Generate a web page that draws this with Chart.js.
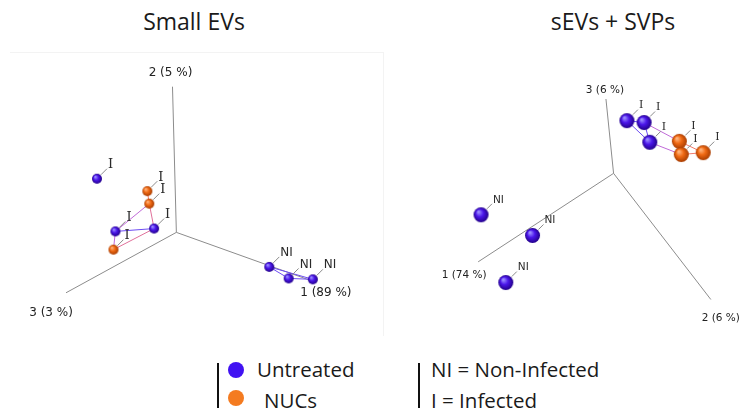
<!DOCTYPE html>
<html lang="en">
<head>
  <meta charset="UTF-8" />
  <title>PCA – Small EVs / sEVs + SVPs</title>
  <script src="https://cdn.jsdelivr.net/npm/chart.js"></script>
  <style>
    body {
      margin: 0;
      width: 747px;
      height: 414px;
      background: #fff;
      position: relative;
      overflow: hidden;
      font-family: "Open Sans", sans-serif;
      color: #1a1a1a;
    }
    .title {
      position: absolute;
      top: 5px;
      font-size: 23px;
      line-height: 32px;
      white-space: nowrap;
      transform: translateX(-50%);
    }
    .frame {
      position: absolute;
      left: 10px;
      top: 52px;
      width: 373px;
      height: 283px;
      border-top: 1px solid #f3f3f3;
      border-right: 1px solid #f3f3f3;
    }
    canvas { position: absolute; }
    .bar {
      position: absolute;
      top: 363px;
      width: 2px;
      height: 45px;
      background: #111;
    }
    .dot {
      position: absolute;
      width: 16px;
      height: 16px;
      border-radius: 50%;
    }
    .txt {
      position: absolute;
      font-size: 20.5px;
      line-height: 26px;
      white-space: nowrap;
    }
  </style>
</head>
<body>
  <div class="title" style="left:194px">Small EVs</div>
  <div class="title" style="left:613px">sEVs + SVPs</div>
  <div class="frame"></div>

  <canvas id="left" width="375" height="290" style="left:0;top:50px"></canvas>
  <canvas id="right" width="367" height="290" style="left:380px;top:50px"></canvas>

  <!-- legend -->
  <div class="bar" style="left:217px"></div>
  <div class="dot" style="left:228px;top:362px;background:#4112f2"></div>
  <div class="dot" style="left:228px;top:390px;background:#f47b20"></div>
  <div class="txt" style="left:257px;top:356px">Untreated</div>
  <div class="txt" style="left:264px;top:387px">NUCs</div>
  <div class="bar" style="left:418px"></div>
  <div class="txt" style="left:431px;top:356px">NI = Non-Infected</div>
  <div class="txt" style="left:431px;top:387px">I = Infected</div>

  <script>
    // ---- Small EVs: projected PCA scores, axis origin at (0,0) ----
    const smallAxisEnds = [[141, -51], [-4, 152], [-114, -63]];   // PC1, PC2, PC3
    const smallAxisNames = ["1 (89 %)", "2 (5 %)", "3 (3 %)"];
    const smallUntreated = [[-82, 56], [-63, 1], [-23, 4], [96, -36], [116, -48], [141, -49]];
    const smallUntreatedTags = ["I", "I", "I", "NI", "NI", "NI"];
    const smallNucs = [[-30, 43], [-28, 30], [-65, -18]];
    const smallNucsTags = ["I", "I", "I"];
    // links between samples: [group, index, group, index]  (u = untreated, n = NUCs)
    const smallLinks = [
      ["n", 0, "n", 1], ["u", 1, "n", 1], ["n", 1, "u", 2], ["u", 1, "u", 2],
      ["u", 1, "n", 2], ["n", 2, "u", 2],
      ["u", 3, "u", 4], ["u", 4, "u", 5], ["u", 3, "u", 5]
    ];

    // ---- sEVs + SVPs ----
    const svpAxisEnds = [[-142, -94], [102, -134], [-8, 79]];     // PC1, PC2, PC3
    const svpAxisNames = ["1 (74 %)", "2 (6 %)", "3 (6 %)"];
    const svpUntreated = [[-139, -44], [-85, -66], [-113, -116], [14, 56], [32, 54], [38, 33]];
    const svpUntreatedTags = ["NI", "NI", "NI", "I", "I", "I"];
    const svpNucs = [[69, 34], [71, 20], [94, 22]];
    const svpNucsTags = ["I", "I", "I"];
    const svpLinks = [
      ["u", 3, "u", 4], ["u", 3, "u", 5], ["u", 4, "u", 5],
      ["u", 4, "n", 0], ["u", 5, "n", 1], ["n", 0, "n", 2], ["n", 1, "n", 2]
    ];

    const BLUE = "#4b16ea";
    const ORANGE = "#f06a14";
    const LINK_COLORS = { uu: "#6d4cf2", un: "#c06ad8", nu: "#e0709a", nn: "#f07a6a" };

    // shaded sphere sprite used as point style
    function sphere(r, light, base, dark) {
      const c = document.createElement("canvas");
      c.width = c.height = 2 * r + 2;
      const g = c.getContext("2d");
      const cx = r + 1;
      const grad = g.createRadialGradient(cx - r * 0.35, cx - r * 0.4, r * 0.1, cx, cx, r);
      grad.addColorStop(0, light);
      grad.addColorStop(0.45, base);
      grad.addColorStop(1, dark);
      g.fillStyle = grad;
      g.beginPath();
      g.arc(cx, cx, r, 0, Math.PI * 2);
      g.fill();
      return c;
    }

    const toXY = p => ({ x: p[0], y: p[1] });

    // leader line + tag for every sample, axis names at the axis tips
    const tagPlugin = {
      id: "tags",
      afterDatasetsDraw(chart, args, opts) {
        const ctx = chart.ctx;
        ctx.save();
        chart.data.datasets.forEach((ds, i) => {
          if (!ds.tags) return;
          chart.getDatasetMeta(i).data.forEach((pt, j) => {
            const { x, y } = pt.getProps(["x", "y"], true);
            ctx.strokeStyle = "#8a8a8a";
            ctx.lineWidth = 1;
            ctx.beginPath();
            ctx.moveTo(x + opts.lead[0], y - opts.lead[0]);
            ctx.lineTo(x + opts.lead[1], y - opts.lead[1]);
            ctx.stroke();
            const tag = ds.tags[j];
            ctx.fillStyle = "#2a2a2a";
            ctx.font = tag === "I" ? opts.fontI : opts.fontNI;
            ctx.textAlign = "left";
            ctx.textBaseline = "middle";
            ctx.fillText(tag, x + opts.lead[1] + 1, y - opts.lead[1] - 4);
          });
        });
        const sx = chart.scales.x, sy = chart.scales.y;
        ctx.font = opts.axisFont;
        ctx.fillStyle = "#222";
        ctx.textAlign = "center";
        ctx.textBaseline = "middle";
        opts.axisEnds.forEach((e, k) => {
          const px = sx.getPixelForValue(e[0]) + opts.axisOffsets[k][0];
          const py = sy.getPixelForValue(e[1]) + opts.axisOffsets[k][1];
          ctx.fillText(opts.axisNames[k], px, py);
        });
        ctx.restore();
      }
    };

    function buildPanel(id, cfg) {
      const groups = { u: cfg.untreated, n: cfg.nucs };
      const datasets = [];

      cfg.axisEnds.forEach(e => datasets.push({
        type: "line",
        data: [{ x: 0, y: 0 }, toXY(e)],
        borderColor: "#8c8c8c",
        borderWidth: 1,
        pointRadius: 0,
        showLine: true,
        order: 3
      }));

      cfg.links.forEach(([ga, ia, gb, ib]) => datasets.push({
        type: "line",
        data: [toXY(groups[ga][ia]), toXY(groups[gb][ib])],
        borderColor: LINK_COLORS[ga + gb],
        borderWidth: 1,
        pointRadius: 0,
        showLine: true,
        order: 2
      }));

      datasets.push({
        label: "Untreated",
        data: cfg.untreated.map(toXY),
        tags: cfg.untreatedTags,
        pointStyle: sphere(cfg.r, "#9a8cff", BLUE, "#22008a"),
        pointRadius: cfg.r,
        order: 0
      });
      datasets.push({
        label: "NUCs",
        data: cfg.nucs.map(toXY),
        tags: cfg.nucsTags,
        pointStyle: sphere(cfg.r, "#ffb27a", ORANGE, "#a83c00"),
        pointRadius: cfg.r,
        order: 1
      });

      new Chart(document.getElementById(id), {
        type: "scatter",
        data: { datasets },
        options: {
          responsive: false,
          animation: false,
          events: [],
          layout: { padding: 0 },
          scales: {
            x: { type: "linear", display: false, min: cfg.xRange[0], max: cfg.xRange[1] },
            y: { type: "linear", display: false, min: cfg.yRange[0], max: cfg.yRange[1] }
          },
          plugins: {
            legend: { display: false },
            tooltip: { enabled: false },
            tags: {
              lead: cfg.lead,
              fontI: cfg.fontI,
              fontNI: cfg.fontNI,
              axisFont: cfg.axisFont,
              axisEnds: cfg.axisEnds,
              axisNames: cfg.axisNames,
              axisOffsets: cfg.axisOffsets
            }
          }
        },
        plugins: [tagPlugin]
      });
    }

    buildPanel("left", {
      untreated: smallUntreated, untreatedTags: smallUntreatedTags,
      nucs: smallNucs, nucsTags: smallNucsTags,
      links: smallLinks,
      axisEnds: smallAxisEnds, axisNames: smallAxisNames,
      axisOffsets: [[13, 12], [-2, -14], [-15, 20]],
      xRange: [-176, 199], yRange: [-106, 184],
      r: 5, lead: [4, 10],
      fontI: "13px 'DejaVu Serif'", fontNI: "12px 'DejaVu Sans'",
      axisFont: "12px 'DejaVu Sans'"
    });

    buildPanel("right", {
      untreated: svpUntreated, untreatedTags: svpUntreatedTags,
      nucs: svpNucs, nucsTags: svpNucsTags,
      links: svpLinks,
      axisEnds: svpAxisEnds, axisNames: svpAxisNames,
      axisOffsets: [[-14, 13], [10, 19], [-1, -9]],
      xRange: [-236, 131], yRange: [-168, 122],
      r: 7.5, lead: [6, 11],
      fontI: "11px 'DejaVu Serif'", fontNI: "10.5px 'DejaVu Sans'",
      axisFont: "10.5px 'DejaVu Sans'"
    });
  </script>
</body>
</html>
